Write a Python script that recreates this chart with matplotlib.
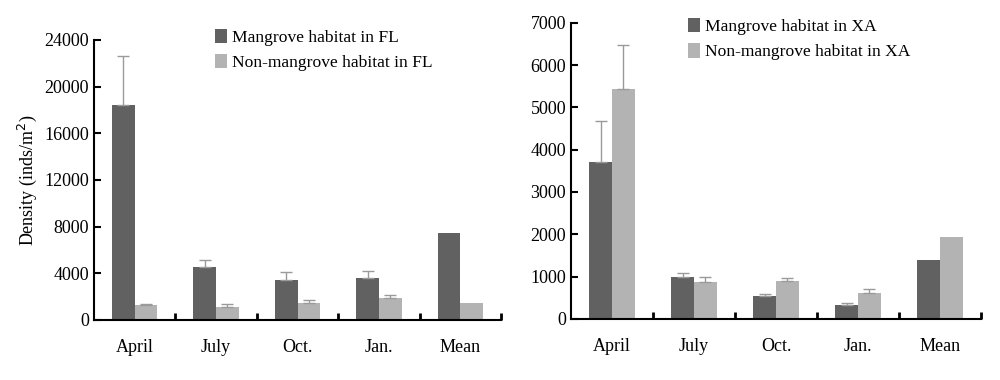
import numpy as np
import matplotlib
matplotlib.use("Agg")
import matplotlib.pyplot as plt

plt.rcParams['font.family'] = ['Liberation Serif', 'DejaVu Serif']

months = ['April', 'July', 'Oct.', 'Jan.', 'Mean']

# FL site
fl_mangrove = [18400, 4500, 3400, 3600, 7450]
fl_mangrove_err = [4200, 600, 700, 600, 0]
fl_non = [1300, 1150, 1450, 1850, 1450]
fl_non_err = [100, 250, 300, 250, 0]

# XA site
xa_mangrove = [3700, 1000, 550, 330, 1390]
xa_mangrove_err = [970, 80, 40, 40, 0]
xa_non = [5440, 860, 890, 610, 1940]
xa_non_err = [1040, 120, 70, 90, 0]

dark = '#616161'
light = '#b3b3b3'
errc = '#9a9a9a'


def upper_err(ax, x, y, err):
    # one-sided error bars, skipped where there is none (Mean)
    x, y, err = np.asarray(x), np.asarray(y), np.asarray(err)
    m = err > 0
    ax.errorbar(x[m], y[m], yerr=[np.zeros(m.sum()), err[m]], fmt='none',
                ecolor=errc, elinewidth=1, capsize=4, capthick=1)


def bar_panel(ax, a, a_err, b, b_err, labels, ymax, step):
    x = np.arange(len(months))
    w = 0.28
    ax.bar(x - w / 2, a, w, color=dark, label=labels[0])
    ax.bar(x + w / 2, b, w, color=light, label=labels[1])
    upper_err(ax, x - w / 2, a, a_err)
    upper_err(ax, x + w / 2, b, b_err)
    ax.set_xlim(-0.5, len(months) - 0.5)
    ax.set_ylim(0, ymax)
    ax.set_yticks(np.arange(0, ymax + 1, step))
    ax.set_xticks(x)
    ax.set_xticklabels(months, fontsize=13)
    ax.tick_params(axis='x', length=0, pad=14)
    ax.set_xticks(np.arange(0.5, len(months), 1), minor=True)
    ax.tick_params(axis='x', which='minor', direction='in', length=5, width=2)
    ax.tick_params(axis='y', direction='in', length=5, width=1.5, labelsize=13)
    for s in ['top', 'right']:
        ax.spines[s].set_visible(False)
    for s in ['left', 'bottom']:
        ax.spines[s].set_linewidth(1.5)
    ax.legend(loc='upper right', frameon=False, fontsize=12.6, handlelength=0.7,
              handleheight=0.9, handletextpad=0.3, labelspacing=0.45,
              borderaxespad=0.0)


fig = plt.figure(figsize=(10, 3.8), dpi=100)
ax1 = fig.add_axes([0.094, 0.158, 0.407, 0.737])
ax2 = fig.add_axes([0.571, 0.161, 0.41, 0.779])

bar_panel(ax1, fl_mangrove, fl_mangrove_err, fl_non, fl_non_err,
          ['Mangrove habitat in FL', 'Non-mangrove habitat in FL'], 24000, 4000)
ax1.legend_.set_bbox_to_anchor((0.85, 1.065))
ax1.set_ylabel('Density (inds/m$^2$)', fontsize=13)

bar_panel(ax2, xa_mangrove, xa_mangrove_err, xa_non, xa_non_err,
          ['Mangrove habitat in XA', 'Non-mangrove habitat in XA'], 7000, 1000)
ax2.legend_.set_bbox_to_anchor((0.845, 1.04))

fig.savefig('out.png', dpi=100)
